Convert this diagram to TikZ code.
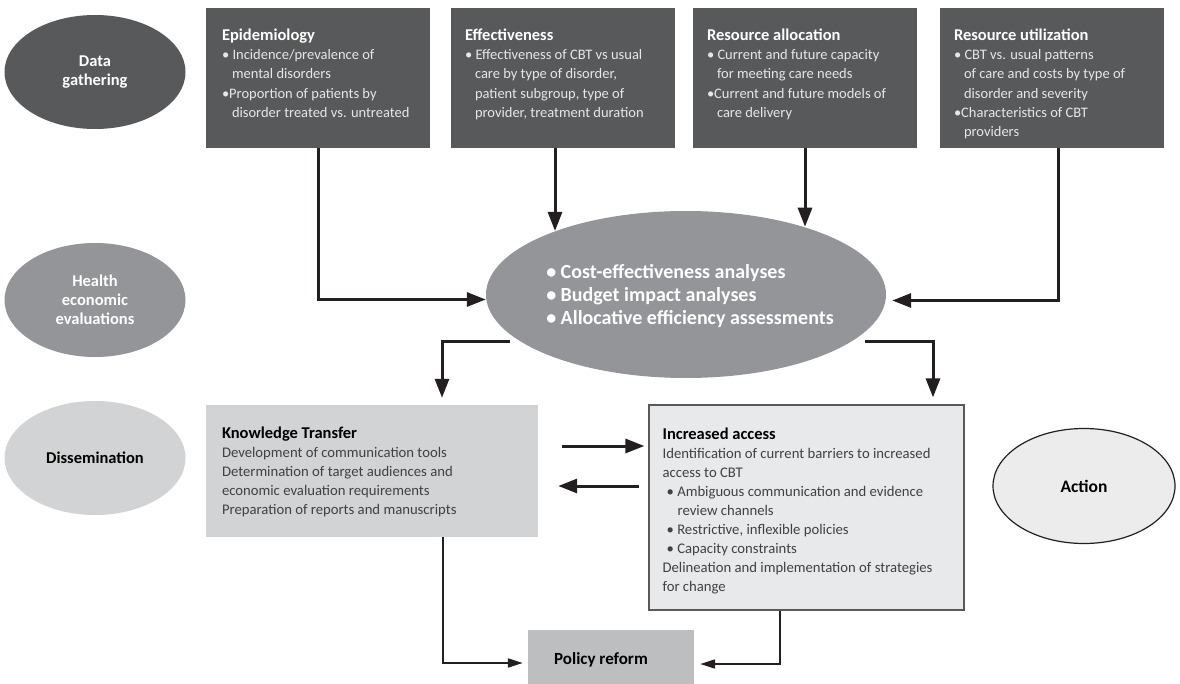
\documentclass[tikz,border=0pt]{standalone}
\usepackage{fontspec}
\setmainfont{Carlito}
\usetikzlibrary{arrows.meta,shapes.geometric}
\definecolor{dk}{HTML}{58595B}
\definecolor{md}{HTML}{939598}
\definecolor{lt}{HTML}{D1D3D4}
\definecolor{pol}{HTML}{BCBEC0}
\definecolor{iafill}{HTML}{E8E9EA}
\definecolor{actfill}{HTML}{ECECED}
\definecolor{ln}{HTML}{231F20}
\definecolor{txl}{HTML}{E6E7E8}
\definecolor{txd}{HTML}{414042}
\begin{document}
\begin{tikzpicture}[x=1pt,y=-1pt,
  lab/.style={ellipse, minimum width=181pt, minimum height=114pt, inner sep=0pt, align=center,
    font=\fontsize{16.5}{19}\selectfont\bfseries},
  topbox/.style={rectangle, fill=dk, minimum width=224pt, minimum height=140pt, inner sep=0pt},
  toptext/.style={anchor=north west, inner sep=0pt, align=left, text=txl,
    font=\fontsize{14.5}{19.2}\selectfont},
  bodytext/.style={anchor=north west, inner sep=0pt, align=left, text=txd,
    font=\fontsize{14.7}{19}\selectfont},
  arr/.style={draw=ln, line width=3pt, -{Triangle[length=19pt,width=14pt]}},
  arrs/.style={draw=ln, line width=2pt, -{Triangle[length=15pt,width=9pt]}}
]
\useasboundingbox (0,0) rectangle (1180,684);

% left column labels
\node[lab, fill=dk, text=white] (dg) at (95,72) {Data\\gathering};
\node[lab, fill=md, text=white] (he) at (95,300) {Health\\economic\\evaluations};
\node[lab, fill=lt, text=black] (ds) at (95,458) {Dissemination};

% top boxes
\node[topbox] (epi) at (318,78) {};
\node[topbox] (eff) at (563,78) {};
\node[topbox] (ra) at (805,78) {};
\node[topbox] (ru) at (1052,78) {};

\newcommand{\hd}[1]{\textcolor{white}{\fontsize{16.5}{19.2}\selectfont\bfseries #1}}
\newcommand{\hdk}[1]{\textcolor{black}{\fontsize{16.5}{19}\selectfont\bfseries #1}}

\node[toptext] (epit) at ([xshift=16pt,yshift=-21pt]epi.north west)
  {\hd{Epidemiology}\\
   \textbullet\ Incidence/prevalence of\\
   \hspace*{10pt}mental disorders\\
   \textbullet Proportion of patients by\\
   \hspace*{10pt}disorder treated vs. untreated};
\node[toptext] (efft) at ([xshift=14pt,yshift=-21pt]eff.north west)
  {\hd{Effectiveness}\\
   \textbullet\ Effectiveness of CBT vs usual\\
   \hspace*{10pt}care by type of disorder,\\
   \hspace*{10pt}patient subgroup, type of\\
   \hspace*{10pt}provider, treatment duration};
\node[toptext] (rat) at ([xshift=14pt,yshift=-21pt]ra.north west)
  {\hd{Resource allocation}\\
   \textbullet\ Current and future capacity\\
   \hspace*{10pt}for meeting care needs\\
   \textbullet Current and future models of\\
   \hspace*{10pt}care delivery};
\node[toptext] (rut) at ([xshift=14pt,yshift=-21pt]ru.north west)
  {\hd{Resource utilization}\\
   \textbullet\ CBT vs. usual patterns\\
   \hspace*{10pt}of care and costs by type of\\
   \hspace*{10pt}disorder and severity\\
   \textbullet Characteristics of CBT\\
   \hspace*{10pt}providers};

% central ellipse
\node[ellipse, fill=md, minimum width=400pt, minimum height=167pt, inner sep=0pt] (hee) at (686,294.5) {};
\node[inner sep=0pt, align=left, text=white, font=\fontsize{20}{23}\selectfont\bfseries] (heet) at (690,296)
  {\textbullet\ Cost-effectiveness analyses\\
   \textbullet\ Budget impact analyses\\
   \textbullet\ Allocative efficiency assessments};

% knowledge transfer
\node[rectangle, fill=lt, minimum width=332pt, minimum height=132pt, inner sep=0pt] (kt) at (372,471) {};
\node[bodytext] (ktt) at ([xshift=16pt,yshift=-22pt]kt.north west)
  {\hdk{Knowledge Transfer}\\
   Development of communication tools\\
   Determination of target audiences and\\
   economic evaluation requirements\\
   Preparation of reports and manuscripts};

% increased access
\node[rectangle, fill=iafill, draw=dk, line width=1.2pt, minimum width=315pt, minimum height=205pt, inner sep=0pt] (ia) at (806.5,507.5) {};
\node[bodytext] (iat) at ([xshift=14pt,yshift=-23pt]ia.north west)
  {\hdk{Increased access}\\
   Identification of current barriers to increased\\
   access to CBT\\
   \hspace*{4pt}\textbullet\ Ambiguous communication and evidence\\
   \hspace*{15pt}review channels\\
   \hspace*{4pt}\textbullet\ Restrictive, inflexible policies\\
   \hspace*{4pt}\textbullet\ Capacity constraints\\
   Delineation and implementation of strategies\\
   for change};

% action
\node[ellipse, fill=actfill, draw=ln, line width=1.2pt, minimum width=182pt, minimum height=115pt, inner sep=0pt,
  font=\fontsize{17.5}{19}\selectfont\bfseries] (act) at (1084,486) {Action};

% policy reform
\node[rectangle, fill=pol, minimum width=166pt, minimum height=60pt, inner sep=0pt,
  font=\fontsize{17}{19}\selectfont\bfseries] (pr) at (611,660) {Policy reform\hspace*{20pt}};

% connectors
\draw[arr] (epi.south) |- ([yshift=-5pt]hee.west);
\draw[arr] ([xshift=-8pt]eff.south) -- ([xshift=-8pt]eff.south |- hee.154);
\draw[arr] (ra.south) -- (ra.south |- hee.30);
\draw[arr, shorten >=6pt] ([xshift=6pt]ru.south) |- ([yshift=-6pt]hee.east);
\draw[arr, shorten <=11pt, shorten >=7pt] (hee.196) -| ([xshift=70pt]kt.north);
\draw[arr, shorten <=14pt, shorten >=7pt] (hee.-16) -| ([xshift=126.5pt]ia.north);
\draw[arr, shorten <=24pt, shorten >=4pt] ([yshift=25pt]kt.east) -- ([yshift=25pt]kt.east -| ia.west);
\draw[arr, shorten <=9pt, shorten >=20pt] ([yshift=-15pt]kt.east -| ia.west) -- ([yshift=-15pt]kt.east);
\draw[arrs, shorten >=5pt] ([xshift=71pt]kt.south) |- ([yshift=-3pt]pr.west);
\draw[arrs, shorten >=6pt] ([xshift=-26.5pt]ia.south) |- ([yshift=-4pt]pr.east);
\end{tikzpicture}
\end{document}
